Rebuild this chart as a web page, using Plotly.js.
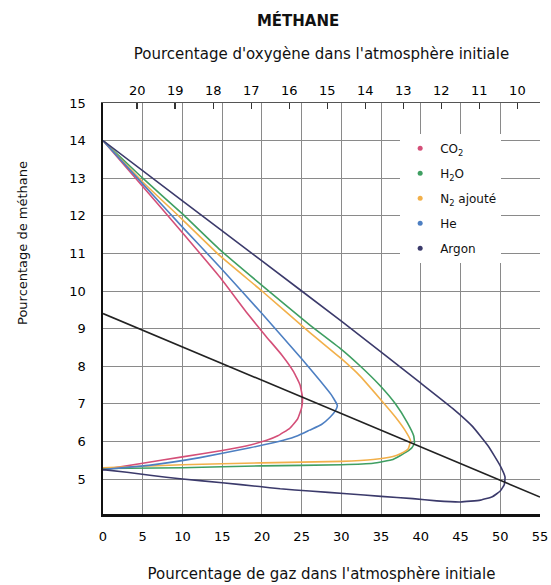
<!DOCTYPE html>
<html>
<head>
<meta charset="utf-8">
<script src="https://cdn.plot.ly/plotly-3.0.1.min.js"></script>
<style>html,body{margin:0;padding:0;background:#fff}#chart{width:551px;height:585px}</style>
</head>
<body>
<div id="chart"></div>
<script>
// Gas percentage (x) and methane percentage (y) along each flammability envelope
const co2X = [0, 5, 10, 14.7, 18, 20.5, 22.5, 24, 24.8, 25.1, 25, 24.5, 23.5, 22, 20.6, 18, 15, 10, 5, 0];
const co2Y = [14, 12.78, 11.55, 10.37, 9.45, 8.8, 8.3, 7.85, 7.5, 7.18, 6.9, 6.6, 6.35, 6.15, 6.03, 5.88, 5.76, 5.59, 5.42, 5.25];

const heX = [0, 5, 10, 14.7, 20, 25, 27.3, 28.7, 29.5, 29.2, 28.6, 27.5, 26, 24.5, 22.7, 18.5, 12.2, 6, 0];
const heY = [14, 12.85, 11.7, 10.64, 9.4, 8.2, 7.62, 7.25, 6.95, 6.8, 6.65, 6.45, 6.3, 6.15, 6.03, 5.83, 5.57, 5.37, 5.25];

const n2X = [0, 5, 10, 14.7, 20, 26, 30, 32.3, 34.8, 36.8, 38.0, 38.7, 38.4, 37.5, 36.5, 34, 30, 20, 10, 0];
const n2Y = [14, 12.9, 11.9, 10.94, 10.0, 8.9, 8.2, 7.75, 7.15, 6.65, 6.3, 6.02, 5.8, 5.68, 5.6, 5.52, 5.47, 5.43, 5.38, 5.3];

const h2oX = [0, 5, 10, 14.7, 20, 26, 30, 32.3, 34.8, 36.8, 38.3, 39.1, 39.2, 38.9, 38.2, 36.5, 34, 30, 20, 10, 0];
const h2oY = [14, 13.0, 12.05, 11.1, 10.15, 9.1, 8.45, 8.02, 7.5, 7.0, 6.5, 6.15, 5.97, 5.84, 5.72, 5.52, 5.42, 5.38, 5.35, 5.3, 5.28];

const arX = [0, 10, 20, 30, 40, 44, 46.5, 48.5, 50, 50.6, 50.5, 50, 49, 47.5, 45, 42, 39, 35, 30.7, 26, 22.3, 19.7, 15, 10, 5.9, 3, 0];
const arY = [14, 12.4, 10.8, 9.2, 7.55, 6.88, 6.4, 5.87, 5.35, 5.05, 4.85, 4.68, 4.53, 4.44, 4.39, 4.42, 4.48, 4.54, 4.61, 4.68, 4.74, 4.8, 4.9, 5.0, 5.1, 5.18, 5.25];

// Line joining the noses of the envelopes
const noseLineX = [0, 55];
const noseLineY = [9.4, 4.52];

const seriesNames = ["CO<sub>2</sub>", "H<sub>2</sub>O", "N<sub>2</sub> ajouté", "He", "Argon"];
const seriesColors = ["#d44f78", "#3f9f62", "#f2b04a", "#4d7fc2", "#3b3a6b"];

// Axis ticks
const gasTicks = [0, 5, 10, 15, 20, 25, 30, 35, 40, 45, 50, 55];
const oxygenTicks = [20, 19, 18, 17, 16, 15, 14, 13, 12, 11, 10];
const methaneTicks = [5, 6, 7, 8, 9, 10, 11, 12, 13, 14, 15];
const airOxygen = 20.9; // % O2 in air: maps gas % to oxygen %

const FONT = "DejaVu Sans";
const curves = [[co2X, co2Y], [h2oX, h2oY], [n2X, n2Y], [heX, heY], [arX, arY]];

const traces = [];
curves.forEach((c, i) => {
  traces.push({
    x: c[0], y: c[1], type: "scatter", mode: "lines",
    line: {color: seriesColors[i], width: 1.6, shape: "spline", smoothing: 0.35},
    showlegend: false, hoverinfo: "skip", xaxis: "x", yaxis: "y"
  });
});
traces.push({
  x: noseLineX, y: noseLineY, type: "scatter", mode: "lines",
  line: {color: "#222", width: 1.6}, showlegend: false, hoverinfo: "skip"
});
seriesNames.forEach((n, i) => {
  traces.push({
    x: [null], y: [null], type: "scatter", mode: "markers", name: n,
    marker: {color: seriesColors[i], size: 5}, legendgroup: "g" + i, showlegend: true
  });
});
// invisible trace to activate the top oxygen axis
traces.push({
  x: [airOxygen], y: [null], type: "scatter", mode: "markers", xaxis: "x2", yaxis: "y",
  showlegend: false, hoverinfo: "skip", marker: {opacity: 0}
});

const xmax = 55;
const layout = {
  width: 551, height: 585,
  paper_bgcolor: "#fff", plot_bgcolor: "#fff",
  margin: {l: 103, r: 11, t: 103, b: 71},
  font: {family: FONT, color: "#111", size: 13},
  title: {
    text: "MÉTHANE", font: {family: FONT, size: 15, weight: "bold", color: "#111"},
    xref: "container", yref: "container", x: 0.541, y: 0.964, xanchor: "center", yanchor: "middle"
  },
  xaxis: {
    range: [0, xmax], tickvals: gasTicks, ticktext: gasTicks.map(String),
    showgrid: true, gridcolor: "#8a8a8a", gridwidth: 1,
    showline: true, linecolor: "#111", linewidth: 2.5,
    ticks: "", ticklabelstandoff: 9, zeroline: false,
    tickfont: {family: FONT, size: 13, color: "#000"},
    title: {text: "Pourcentage de gaz dans l'atmosphère initiale", standoff: 26,
            font: {family: FONT, size: 15, color: "#111"}}
  },
  xaxis2: {
    overlaying: "x", side: "top",
    range: [airOxygen, airOxygen * (1 - xmax / 100)],
    tickvals: oxygenTicks, ticktext: oxygenTicks.map(String),
    showgrid: false, showline: true, linecolor: "#555", linewidth: 1,
    ticks: "inside", ticklen: 6, tickwidth: 1.5, tickcolor: "#333",
    ticklabelstandoff: 2, zeroline: false,
    tickfont: {family: FONT, size: 13, color: "#000"},
    title: {text: "Pourcentage d'oxygène dans l'atmosphère initiale", standoff: 19,
            font: {family: FONT, size: 15, color: "#111"}}
  },
  yaxis: {
    range: [4.07, 15], tickvals: methaneTicks, ticktext: methaneTicks.map(String),
    showgrid: true, gridcolor: "#8a8a8a", gridwidth: 1,
    showline: true, linecolor: "#111", linewidth: 2.5,
    ticks: "", ticklabelstandoff: 12, zeroline: false,
    tickfont: {family: FONT, size: 13, color: "#000"}
  },
  legend: {
    x: 0.68, y: 0.925, xanchor: "left", yanchor: "top",
    bgcolor: "#fff", borderwidth: 0, tracegroupgap: 6,
    font: {family: FONT, size: 12, color: "#111"},
    itemwidth: 30
  },
  annotations: [{
    text: "Pourcentage de méthane", textangle: -90,
    xref: "paper", yref: "paper",
    x: (22 - 103) / 437, y: (514 - 243) / 411,
    xanchor: "center", yanchor: "middle", showarrow: false,
    font: {family: FONT, size: 13, color: "#111"}
  }],
  showlegend: true
};

Plotly.newPlot("chart", traces, layout, {staticPlot: true, displayModeBar: false});
</script>
</body>
</html>
